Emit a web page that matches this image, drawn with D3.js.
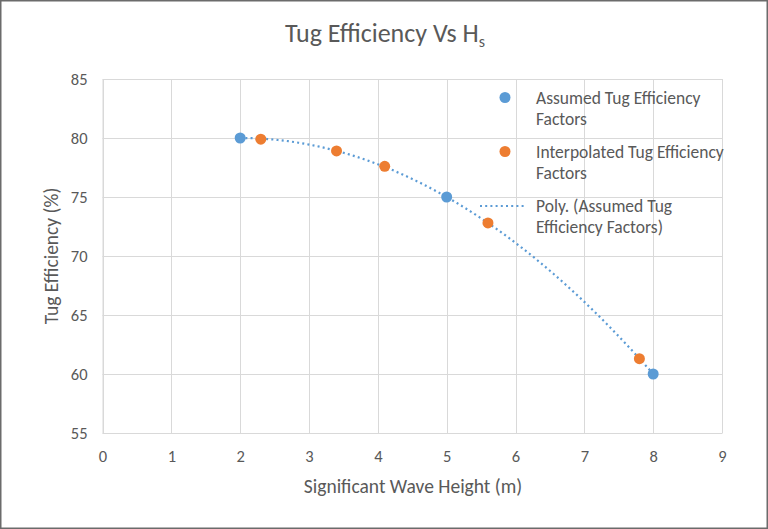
<!DOCTYPE html>
<html>
<head>
<meta charset="utf-8">
<script src="https://cdn.jsdelivr.net/npm/d3@7"></script>
<style>
  html, body { margin: 0; padding: 0; background: #fff; }
  svg { display: block; font-family: Carlito, Calibri, Lato, "Open Sans", sans-serif; }
</style>
</head>
<body>
<svg id="chart" width="768" height="529"></svg>
<script>
// ---- data ----
const assumedX = [2, 5, 8];
const assumedY = [80, 75, 60];
const interpX = [2.3, 3.4, 4.1, 5.6, 7.8];
const interpY = [79.9, 78.9, 77.6, 72.8, 61.3];
const xTicks = [0, 1, 2, 3, 4, 5, 6, 7, 8, 9];
const yTicks = [55, 60, 65, 70, 75, 80, 85];
const legendLabels = [
  ["Assumed Tug Efficiency", "Factors"],
  ["Interpolated Tug Efficiency", "Factors"],
  ["Poly. (Assumed Tug", "Efficiency Factors)"]
];

// ---- polynomial (order 2) trendline via least squares on assumed points ----
function polyfit2(xs, ys) {
  let S = [0,0,0,0,0], T = [0,0,0];
  xs.forEach((x, i) => {
    for (let k = 0; k < 5; k++) S[k] += Math.pow(x, k);
    for (let k = 0; k < 3; k++) T[k] += ys[i] * Math.pow(x, k);
  });
  const A = [[S[0],S[1],S[2],T[0]],[S[1],S[2],S[3],T[1]],[S[2],S[3],S[4],T[2]]];
  for (let i = 0; i < 3; i++) {
    let p = i;
    for (let r = i+1; r < 3; r++) if (Math.abs(A[r][i]) > Math.abs(A[p][i])) p = r;
    [A[i], A[p]] = [A[p], A[i]];
    for (let r = 0; r < 3; r++) if (r !== i) {
      const f = A[r][i] / A[i][i];
      for (let c = i; c < 4; c++) A[r][c] -= f * A[i][c];
    }
  }
  return [A[0][3]/A[0][0], A[1][3]/A[1][1], A[2][3]/A[2][2]];
}
const coef = polyfit2(assumedX, assumedY);
const xMin = d3.min(assumedX), xMax = d3.max(assumedX);
const trend = d3.range(0, 121).map(i => {
  const xv = xMin + i * (xMax - xMin) / 120;
  return [xv, coef[0] + coef[1]*xv + coef[2]*xv*xv];
});

// ---- layout ----
const svg = d3.select("#chart");
const W = 768, H = 529;
const FONT = "Carlito, Calibri, Lato, sans-serif";
const plot = { left: 102.5, right: 722, top: 79, bottom: 433 };
const x = d3.scaleLinear().domain([0, 9]).range([plot.left, plot.right]);
const y = d3.scaleLinear().domain([55, 85]).range([plot.bottom, plot.top]);
const textColor = "#595959";
const gridColor = "#d9d9d9";
const blue = "#5B9BD5", orange = "#ED7D31";

// outer border
svg.append("rect").attr("x", 0.75).attr("y", 0.75).attr("width", W - 1.5).attr("height", H - 1.5)
  .attr("fill", "#fff").attr("stroke", "#6b6b6b").attr("stroke-width", 1.5);

// gridlines
svg.append("g").selectAll("line").data(yTicks).join("line")
  .attr("x1", plot.left).attr("x2", plot.right)
  .attr("y1", d => Math.round(y(d)) + 0.5).attr("y2", d => Math.round(y(d)) + 0.5)
  .attr("stroke", gridColor).attr("stroke-width", 1);
svg.append("g").selectAll("line").data(xTicks).join("line")
  .attr("x1", d => Math.round(x(d)) + 0.5).attr("x2", d => Math.round(x(d)) + 0.5)
  .attr("y1", plot.top).attr("y2", plot.bottom)
  .attr("stroke", gridColor).attr("stroke-width", 1);

// axes (labels only)
const xAxis = d3.axisBottom(x).tickValues(xTicks).tickSize(0).tickPadding(17);
const gx = svg.append("g").attr("transform", `translate(0,${plot.bottom})`).call(xAxis);
gx.select(".domain").attr("stroke", "#d9d9d9");
gx.selectAll("text").attr("fill", textColor).attr("font-size", 16.5).attr("font-family", FONT);

const yAxis = d3.axisLeft(y).tickValues(yTicks).tickSize(0).tickPadding(15);
const gy = svg.append("g").attr("transform", `translate(${plot.left},0)`).call(yAxis);
gy.select(".domain").attr("stroke", "#d9d9d9");
gy.selectAll("text").attr("fill", textColor).attr("font-size", 16.5).attr("font-family", FONT);

// trendline
const line = d3.line().x(d => x(d[0])).y(d => y(d[1]));
svg.append("path").datum(trend).attr("d", line)
  .attr("fill", "none").attr("stroke", blue).attr("stroke-width", 2.2)
  .attr("stroke-dasharray", "2,3.2");

// points
svg.append("g").selectAll("circle").data(interpX.map((d, i) => [d, interpY[i]])).join("circle")
  .attr("cx", d => x(d[0])).attr("cy", d => y(d[1])).attr("r", 5.5).attr("fill", orange);
svg.append("g").selectAll("circle").data(assumedX.map((d, i) => [d, assumedY[i]])).join("circle")
  .attr("cx", d => x(d[0])).attr("cy", d => y(d[1])).attr("r", 5.5).attr("fill", blue);

// title
const title = svg.append("text").attr("x", 385).attr("y", 42).attr("text-anchor", "middle")
  .attr("fill", textColor).attr("font-size", 26);
title.append("tspan").text("Tug Efficiency Vs H");
title.append("tspan").attr("font-size", 16).attr("dy", 5).text("s");

// axis titles
svg.append("text").attr("x", 413).attr("y", 493).attr("text-anchor", "middle")
  .attr("fill", textColor).attr("font-size", 19.5).text("Significant Wave Height (m)");
svg.append("text").attr("transform", "translate(58,256) rotate(-90)").attr("text-anchor", "middle")
  .attr("fill", textColor).attr("font-size", 19.5).text("Tug Efficiency (%)");

// legend
const leg = svg.append("g");
const legY = [97.5, 151.5, 206];
leg.append("circle").attr("cx", 505).attr("cy", legY[0]).attr("r", 5.5).attr("fill", blue);
leg.append("circle").attr("cx", 505).attr("cy", legY[1]).attr("r", 5.5).attr("fill", orange);
leg.append("line").attr("x1", 480).attr("x2", 526).attr("y1", legY[2]).attr("y2", legY[2])
  .attr("stroke", blue).attr("stroke-width", 2.2).attr("stroke-dasharray", "2,3.2");
legendLabels.forEach((lines, i) => {
  const t = leg.append("text").attr("fill", textColor).attr("font-size", 17.5);
  lines.forEach((s, j) => {
    t.append("tspan").attr("x", 536).attr("y", legY[i] + 6 + j * 21).text(s);
  });
});
</script>
</body>
</html>
